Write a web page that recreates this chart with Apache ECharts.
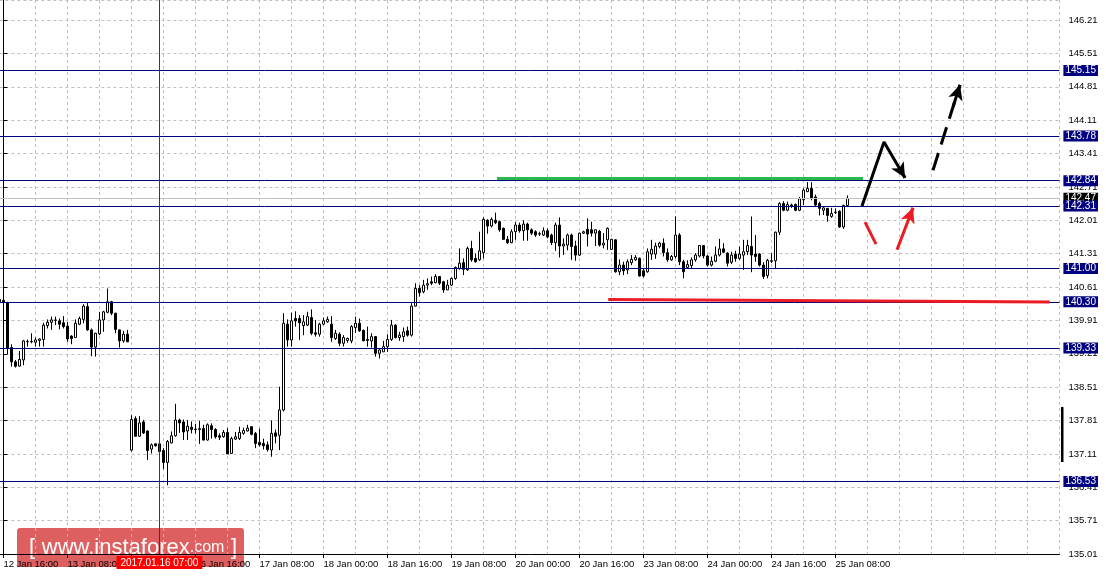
<!DOCTYPE html>
<html><head><meta charset="utf-8">
<script src="https://cdn.jsdelivr.net/npm/echarts@6/dist/echarts.min.js"></script>
<style>html,body{margin:0;padding:0;background:#fff;overflow:hidden}#c{width:1106px;height:579px}</style>
</head><body><div id="c"></div>
<script>
// ---- categories (hourly bars, H1) ----
const tradingDays = ['12 Jan','13 Jan','16 Jan','17 Jan','18 Jan','19 Jan','20 Jan','23 Jan','24 Jan','25 Jan','26 Jan','27 Jan'];
const firstHour = 15;
const slotCount = 266;
const categories = [];
tradingDays.forEach((d, di) => {
  for (let h = (di === 0 ? firstHour : 0); h < 24; h++) {
    if (categories.length < slotCount) categories.push(d + ' ' + String(h).padStart(2, '0') + ':00');
  }
});
const tickLabels = ['12 Jan 16:00','13 Jan 08:00','16 Jan 00:00','16 Jan 16:00','17 Jan 08:00','18 Jan 00:00','18 Jan 16:00','19 Jan 08:00','20 Jan 00:00','20 Jan 16:00','23 Jan 08:00','24 Jan 00:00','24 Jan 16:00','25 Jan 08:00'];
const priceTicks = {min: 135.01, max: 146.63, step: 0.70};

// ---- OHLC (from 12 Jan 15:00) ----
const opens = [140.35,140.33,140.28,139.34,139.04,138.95,139.08,139.46,139.46,139.45,139.49,139.51,139.80,139.87,139.91,139.90,139.86,139.79,139.58,139.55,139.83,139.93,140.20,139.71,139.35,139.63,139.92,140.08,140.30,140.06,139.71,139.48,139.62,
137.19,137.85,137.48,137.78,137.59,137.21,137.32,137.32,137.18,136.93,137.34,137.49,137.82,137.78,137.59,137.67,137.63,137.62,137.64,137.40,137.70,137.62,137.49,137.47,137.56,137.12,137.42,137.43,137.54,137.59,137.68,137.54,137.35,137.33,137.30,137.19,137.55,137.50,138.03,139.83,139.50,139.95,139.95,139.80,139.81,139.97,139.65,139.62,139.83,139.88,139.83,
139.53,139.62,139.43,139.49,139.48,139.76,139.85,139.70,139.51,139.48,139.57,139.22,139.25,139.36,139.51,139.81,139.55,139.57,139.69,139.60,140.21,140.58,140.51,140.65,140.72,140.70,140.83,140.72,140.55,140.65,140.79,141.00,141.12,140.97,141.42,141.21,141.18,141.33,142.01,141.89,142.01,141.98,141.84,
141.61,141.54,141.77,141.91,141.79,141.93,141.81,141.77,141.72,141.70,141.79,141.70,141.54,141.91,141.47,141.49,141.70,141.47,141.28,141.74,141.82,141.81,141.74,141.78,141.49,141.60,141.40,141.60,140.93,141.07,140.97,141.12,141.18,141.21,140.95,140.93,141.30,141.30,141.46,141.53,141.33,141.18,141.25,141.70,141.14,
141.02,141.06,141.18,141.26,141.48,141.26,141.07,141.15,141.28,141.41,141.32,141.13,141.30,141.21,141.28,141.35,141.46,141.30,141.30,141.07,140.85,141.16,141.16,141.76,142.36,142.22,142.33,142.34,142.22,142.44,142.61,142.68,142.50,142.36,142.22,142.26,142.09,142.17,142.20,141.87,142.32];
const closes = [140.30,140.30,139.32,139.04,138.95,139.09,139.48,139.47,139.47,139.50,139.52,139.81,139.87,139.92,139.92,139.83,139.78,139.52,139.53,139.85,139.95,140.21,139.71,139.35,139.64,139.92,140.09,140.30,140.06,139.72,139.48,139.62,139.46,
137.83,137.48,137.76,137.55,137.18,137.30,137.28,137.16,136.93,137.37,137.49,137.82,137.76,137.57,137.69,137.62,137.62,137.64,137.40,137.72,137.62,137.47,137.46,137.56,137.11,137.43,137.47,137.56,137.60,137.65,137.52,137.33,137.30,137.28,137.20,137.54,137.48,138.03,139.85,139.50,139.90,139.90,139.86,139.88,139.99,139.64,139.62,139.83,139.90,139.93,139.55,
139.64,139.43,139.55,139.53,139.78,139.85,139.69,139.48,139.49,139.57,139.22,139.29,139.36,139.51,139.81,139.55,139.60,139.67,139.60,140.21,140.58,140.49,140.65,140.68,140.69,140.83,140.69,140.55,140.65,140.79,141.02,141.11,140.98,141.42,141.18,141.14,141.37,142.03,141.89,142.03,141.96,141.81,141.61,
141.54,141.77,141.91,141.79,141.93,141.81,141.74,141.70,141.73,141.79,141.66,141.54,141.91,141.47,141.51,141.70,141.46,141.28,141.74,141.77,141.72,141.74,141.81,141.49,141.53,141.84,141.61,140.93,141.07,140.95,141.14,141.19,141.23,140.84,140.84,141.35,141.40,141.47,141.53,141.33,141.18,141.25,141.70,141.14,140.93,
141.08,141.18,141.28,141.48,141.26,141.07,141.15,141.28,141.41,141.34,141.11,141.28,141.21,141.30,141.35,141.48,141.28,141.25,141.07,140.83,141.17,141.15,141.76,142.36,142.22,142.34,142.30,142.22,142.46,142.64,142.68,142.47,142.33,142.26,142.27,142.11,142.15,142.18,141.87,142.32,142.47];
const lows = [140.08,140.22,139.20,138.94,138.92,138.94,138.97,139.36,139.43,139.36,139.36,139.36,139.74,139.71,139.81,139.72,139.74,139.46,139.41,139.55,139.81,139.85,139.69,139.16,139.15,139.60,139.67,140.06,140.02,139.64,139.34,139.44,139.46,
137.16,137.47,137.47,137.53,136.98,137.12,137.26,137.11,136.79,136.45,137.33,137.47,137.55,137.40,137.40,137.54,137.54,137.32,137.39,137.39,137.43,137.43,137.40,137.45,137.11,137.11,137.40,137.40,137.51,137.58,137.50,137.23,137.26,137.20,137.16,137.05,137.33,137.19,138.00,139.36,139.36,139.78,139.50,139.60,139.79,139.60,139.57,139.57,139.81,139.86,139.46,
139.50,139.37,139.36,139.44,139.43,139.65,139.67,139.48,139.36,139.34,139.15,139.11,139.25,139.25,139.48,139.53,139.48,139.46,139.57,139.57,140.20,140.41,140.48,140.55,140.65,140.69,140.65,140.49,140.55,140.63,140.76,140.97,140.86,140.95,141.14,141.12,141.16,141.21,141.73,141.86,141.93,141.77,141.60,
141.51,141.53,141.60,141.75,141.58,141.58,141.70,141.66,141.68,141.68,141.63,141.49,141.37,141.23,141.28,141.38,141.18,141.16,141.26,141.72,141.46,141.67,141.47,141.46,141.42,141.39,141.39,140.91,140.86,140.86,140.88,141.07,141.16,140.83,140.81,140.91,141.18,141.20,141.42,141.25,141.14,141.16,141.21,141.07,140.79,
140.99,141.00,141.14,141.23,141.21,141.04,141.04,141.13,141.25,141.32,141.04,141.09,141.14,141.18,140.97,141.28,140.92,141.14,141.04,140.78,140.79,141.11,140.99,141.70,142.20,142.20,142.27,142.20,142.20,142.33,142.60,142.43,142.30,142.11,142.12,141.98,142.06,142.14,141.85,141.83,142.30];
const highs = [140.40,140.44,140.30,139.41,139.08,139.27,139.50,139.51,139.64,139.55,139.53,139.86,139.93,139.99,139.99,139.95,140.00,139.88,139.60,139.93,139.99,140.25,140.28,139.74,139.65,140.09,140.11,140.58,140.32,140.07,139.72,139.69,139.71,
137.92,137.90,137.90,137.82,137.60,137.33,137.33,137.33,137.23,137.40,137.58,138.16,137.85,137.83,137.82,137.79,137.74,137.80,137.72,137.75,137.75,137.65,137.54,137.61,137.65,137.47,137.57,137.68,137.66,137.72,137.69,137.57,137.64,137.43,137.37,137.81,137.62,138.52,140.06,139.93,140.07,140.10,140.02,140.02,140.09,140.14,139.92,139.86,139.97,139.99,140.00,
139.71,139.66,139.60,139.55,139.81,139.99,139.95,139.72,139.78,139.64,139.58,139.32,139.48,139.62,139.92,139.83,139.67,139.76,139.78,140.27,140.69,140.65,140.76,140.79,140.83,140.88,140.84,140.74,140.76,140.81,141.04,141.42,141.21,141.46,141.58,141.31,141.77,142.07,142.03,142.07,142.17,142.00,141.86,
141.68,141.82,141.98,141.96,142.01,141.96,141.84,141.80,141.77,141.86,141.84,141.73,141.96,142.07,141.63,141.73,141.73,141.58,141.75,141.79,142.05,141.98,141.82,141.81,141.74,141.86,141.62,141.61,141.19,141.14,141.19,141.28,141.28,141.23,141.00,141.42,141.60,141.54,141.56,141.63,141.42,141.28,142.09,141.74,141.18,
141.17,141.23,141.32,141.49,141.49,141.28,141.25,141.46,141.62,141.53,141.34,141.35,141.37,141.46,141.60,141.60,142.09,141.70,141.32,141.13,141.20,141.32,141.77,142.39,142.41,142.40,142.36,142.36,142.50,142.68,142.81,142.81,142.55,142.40,142.31,142.26,142.27,142.26,142.22,142.34,142.53];

// ---- horizontal levels ----
const levels = [145.15, 143.78, 142.84, 142.31, 141.00, 140.30, 139.33, 136.53];
const bidPrice = 142.47;
const crosshairCategory = '16 Jan 07:00';
const crosshairLabel = '2017.01.16 07:00';

// ---- hand-drawn annotations: [bar index from 12 Jan 16:00, price] ----
const greenLine = [[123.4, 142.885], [214.9, 142.885]];
const redLine = [[151.2, 140.348], [261.6, 140.296]];
const blackPath = [[214.65, 142.31], [220.15, 143.65], [225.4, 142.90]];
const blackDashed = [[232.4, 143.06], [239.15, 144.85]];
const redDash = [[215.4, 141.97], [218.15, 141.51]];
const redArrow = [[223.4, 141.39], [227.4, 142.27]];

const FONT = 'Liberation Sans, Arial, sans-serif';
const candles = opens.map((o, j) => [o, closes[j], lows[j], highs[j]]);

const levelData = [{
  yAxis: bidPrice,
  lineStyle: {color: '#c0c0c0', width: 1, type: 'solid'},
  label: {backgroundColor: '#000', color: '#fff'}
}].concat(levels.map(v => ({
  yAxis: v,
  lineStyle: {color: '#000080', width: 1, type: 'solid'},
  label: {backgroundColor: '#000080', color: '#fff'}
})));
levelData.push({
  xAxis: crosshairCategory,
  lineStyle: {color: '#c00000', width: 1, type: 'solid'},
  label: {position: 'start', formatter: crosshairLabel, backgroundColor: '#ff0000', color: '#fff', padding: [2, 4, 1, 4], distance: 2}
});

function annot(pts, color, dashed, arrow) {
  const n = pts.length;
  const s = {
    type: 'line', xAxisIndex: 1, yAxisIndex: 0, data: pts, showSymbol: false, symbol: 'none',
    lineStyle: {color: color, width: 3, type: dashed ? [18, 9] : 'solid'},
    z: 10, silent: true, animation: false
  };
  if (arrow) {
    const a = pts[n - 2], b = pts[n - 1];
    const mid = [a[0] + (b[0] - a[0]) * 0.75, a[1] + (b[1] - a[1]) * 0.75];
    s.markLine = {
      silent: true, animation: false, symbol: ['none', 'arrow'], symbolSize: [11, 15],
      lineStyle: {color: color, width: 3, type: 'solid'},
      itemStyle: {color: color},
      label: {show: false},
      data: [[{coord: mid}, {coord: b}]]
    };
  }
  return s;
}

const chart = echarts.init(document.getElementById('c'), null, {renderer: 'canvas'});
chart.setOption({
  animation: false,
  backgroundColor: '#fff',
  grid: {left: -0.6, right: 46.6, top: 0, bottom: 25, containLabel: false, outerBoundsMode: 'none'},
  xAxis: [{
    type: 'category', data: categories, boundaryGap: false,
    axisLine: {show: true, lineStyle: {color: '#000', width: 1}},
    axisTick: {show: true, length: 4, lineStyle: {color: '#000'}, interval: (i, v) => tickLabels.includes(v)},
    axisLabel: {interval: (i, v) => tickLabels.includes(v), align: 'left', color: '#000', fontSize: 9.5, fontFamily: FONT, margin: 5},
    splitLine: {show: true, interval: (i) => (i - 1) % 8 === 0, lineStyle: {color: '#c0c0c0', width: 1, type: [3, 3]}}
  }, {
    type: 'value', min: -1, max: 264, show: false
  }],
  yAxis: [{
    type: 'value', position: 'right', min: priceTicks.min, max: priceTicks.max, interval: priceTicks.step,
    axisLine: {show: true, lineStyle: {color: '#000', width: 1}},
    axisTick: {show: true, length: 4, lineStyle: {color: '#000'}},
    axisLabel: {formatter: v => v.toFixed(2), color: '#000', fontSize: 9.5, fontFamily: FONT, margin: 9, showMaxLabel: false},
    splitLine: {show: true, lineStyle: {color: '#c0c0c0', width: 1, type: [3, 3]}}
  }],
  series: [{
    type: 'candlestick', xAxisIndex: 0, yAxisIndex: 0, data: candles, barWidth: 2,
    itemStyle: {color: '#ffffff', color0: '#000000', borderColor: '#000000', borderColor0: '#000000', borderWidth: 1},
    markLine: {
      silent: true, animation: false, symbol: ['none', 'none'],
      label: {show: true, position: 'end', distance: 4, fontSize: 10, fontFamily: FONT, padding: [1, 2, 0, 2], formatter: p => p.value.toFixed(2)},
      data: levelData
    }
  },
  annot(greenLine, '#2db84d', false, false),
  annot(redLine, '#ec1c24', false, false),
  annot(blackPath, '#000000', false, true),
  annot(blackDashed, '#000000', true, true),
  annot(redDash, '#ec1c24', false, false),
  annot(redArrow, '#ec1c24', false, true)
  ],
  graphic: [
    {type: 'rect', left: 1061, top: 407, shape: {width: 2.5, height: 55}, style: {fill: '#000'}, silent: true},
    {type: 'group', left: 17, top: 528, z: 1, children: [
      {type: 'rect', shape: {x: 0, y: 0, width: 227, height: 39, r: 3}, style: {fill: 'rgba(215,60,60,0.82)'}},
      {type: 'text', x: 12, y: 20, style: {
        text: '{b|[}  {a|www.instaforex}{c|.com}  {b|]}',
        verticalAlign: 'middle', fill: '#fff',
        rich: {
          a: {fontSize: 22, fontFamily: FONT, fill: '#fff'},
          c: {fontSize: 16, fontFamily: FONT, fill: '#fff'},
          b: {fontSize: 22, fontFamily: FONT, fill: '#fff'}
        }
      }}
    ]}
  ]
});
</script>
</body></html>
